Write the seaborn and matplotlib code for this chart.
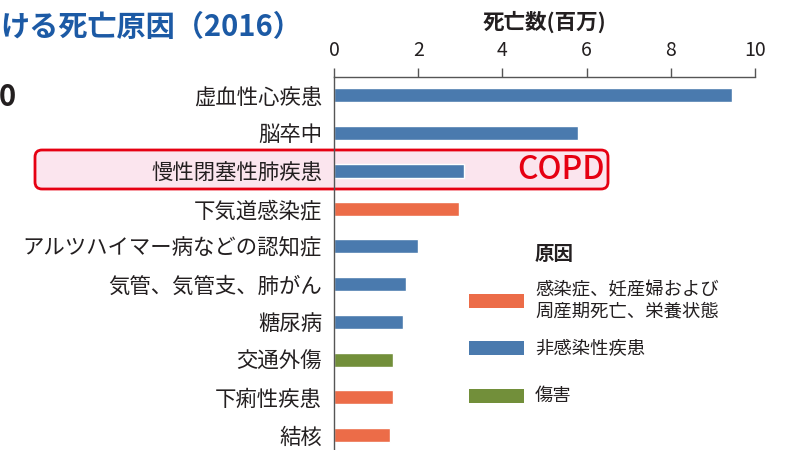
import matplotlib
matplotlib.use("Agg")
import matplotlib.pyplot as plt
import matplotlib.transforms as mtransforms
from matplotlib.patches import FancyBboxPatch, Rectangle
import seaborn as sns
import pandas as pd

# ---- data ----
causes = ["虚血性心疾患", "脳卒中", "慢性閉塞性肺疾患", "下気道感染症",
          "アルツハイマー病などの認知症", "気管、気管支、肺がん", "糖尿病",
          "交通外傷", "下痢性疾患", "結核"]
deaths = [9.45, 5.80, 3.09, 2.97, 2.00, 1.71, 1.64, 1.40, 1.40, 1.33]
groups = ["非感染性疾患", "非感染性疾患", "非感染性疾患", "感染症、妊産婦および\n周産期死亡、栄養状態",
          "非感染性疾患", "非感染性疾患", "非感染性疾患", "傷害",
          "感染症、妊産婦および\n周産期死亡、栄養状態", "感染症、妊産婦および\n周産期死亡、栄養状態"]
group_order = ["感染症、妊産婦および\n周産期死亡、栄養状態", "非感染性疾患", "傷害"]
group_colors = ["#ec6c48", "#4a7aae", "#728f3a"]
x_ticks = [0, 2, 4, 6, 8, 10]
x_label = "死亡数(百万)"
title = "ける死亡原因（2016）"
legend_title = "原因"
highlight = "COPD"

df = pd.DataFrame({"cause": causes, "deaths": deaths, "group": groups})

sns.set_theme(style="white")
plt.rcParams["font.family"] = ["Noto Sans CJK JP", "DejaVu Sans"]

W, H = 788, 450
fig = plt.figure(figsize=(W / 100, H / 100), dpi=100)
fig.patch.set_facecolor("white")

def fx(x):
    return x / W

def fy(y):
    return 1 - y / H

ax = fig.add_axes([fx(334), 0.0, (755 - 334) / W, fy(77)])
ax.patch.set_alpha(0)

palette = dict(zip(group_order, group_colors))
sns.barplot(data=df, y="cause", x="deaths", hue="group", hue_order=group_order,
            palette=palette, dodge=False, width=0.37, orient="h",
            saturation=1, legend=False, ax=ax)

ax.set_xlim(0, 10)
ax.set_ylim(9.39, -0.48)
ax.set_xticks(x_ticks)
ax.xaxis.tick_top()
ax.xaxis.set_label_position("top")
ax.set_xlabel(x_label, fontsize=15.5, fontweight="bold", color="#231f20", labelpad=8)
ax.set_ylabel("")
for s in ["right", "bottom"]:
    ax.spines[s].set_visible(False)
for s in ["top", "left"]:
    ax.spines[s].set_color("#555555")
    ax.spines[s].set_linewidth(1.0)

ax.tick_params(axis="x", which="major", direction="out", length=6.5, width=1,
               color="#555555", labelsize=14, labelcolor="#231f20", pad=5)
ax.tick_params(axis="y", which="major", length=0, labelsize=15.4,
               labelcolor="#231f20", pad=8.6)
ax.set_yticks([i + 0.5 for i in range(len(causes) - 1)], minor=True)
ax.tick_params(axis="y", which="minor", direction="out", length=3.6, width=1,
               color="#555555")
ax.grid(False)

# ---- COPD highlight box ----
ident = mtransforms.IdentityTransform()
box = FancyBboxPatch((35, H - 189), 608 - 35, 189 - 150,
                     boxstyle="round,pad=0,rounding_size=7",
                     facecolor="#fbe5ee", edgecolor="#e60012", linewidth=2,
                     transform=ident, zorder=-1)
fig.add_artist(box)
fig.text(fx(605), fy(170), highlight, ha="right", va="center", fontsize=23,
         fontweight="medium", color="#e60012")

# ---- title & stray text ----
fig.text(fx(0), fy(27), title, ha="left", va="center", fontsize=21,
         fontweight="bold", color="#1c5aa5")
fig.text(fx(-1), fy(97), "0", ha="left", va="center", fontsize=21,
         fontweight="bold", color="#231f20")

# ---- legend (manual) ----
fig.text(fx(535), fy(255), legend_title, ha="left", va="center", fontsize=14,
         fontweight="bold", color="#231f20")
leg_y = [301, 348, 396]
for g, c, yc in zip(group_order, group_colors, leg_y):
    fig.add_artist(Rectangle((469, H - yc - 7), 55, 14, facecolor=c,
                             edgecolor="none", transform=ident))
    fig.text(fx(535), fy(yc), g, ha="left", va="center", fontsize=13.2,
             color="#231f20", linespacing=1.2)

fig.savefig("out.png", dpi=100)
